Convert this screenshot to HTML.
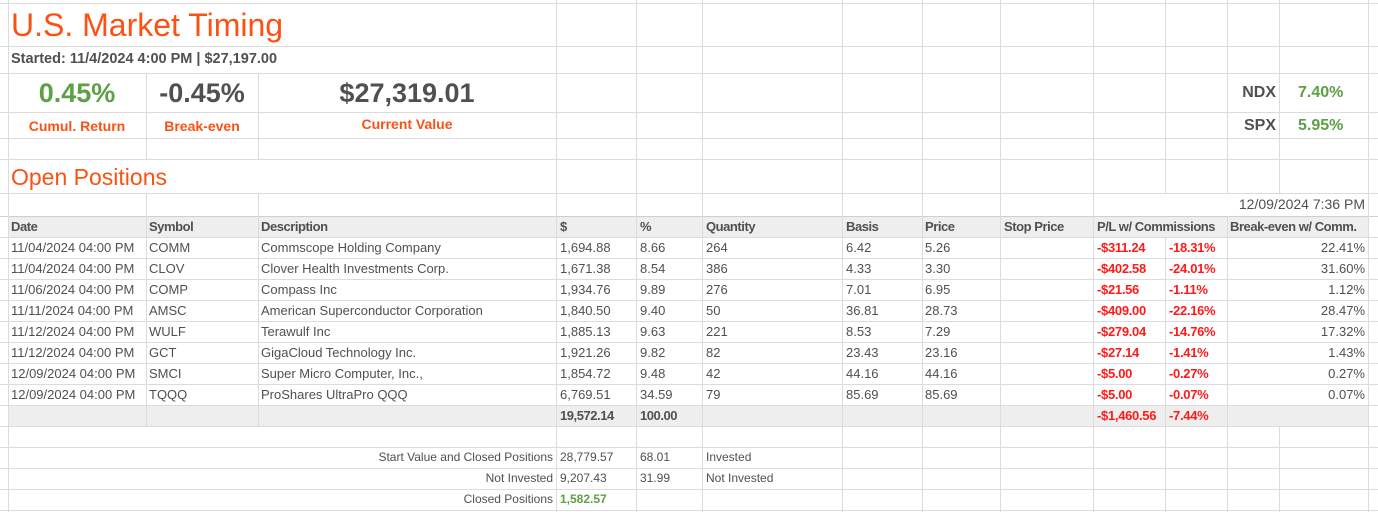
<!DOCTYPE html>
<html><head><meta charset="utf-8">
<style>
body{margin:0;width:1378px;height:512px;background:#fff;position:relative;overflow:hidden;font-family:"Liberation Sans",sans-serif;}
.v{position:absolute;width:1px;background:#dcdcdc}
.h{position:absolute;height:1px;background:#dcdcdc}
.bg{position:absolute;background:#eeeeee}
.t{position:absolute;white-space:nowrap;font-size:13px;color:#505050;line-height:21px}
.b{font-weight:bold}
.hd{font-weight:bold;letter-spacing:-0.45px}
.r{text-align:right}
.red{color:#ff1a1a;font-weight:bold;letter-spacing:-0.3px}
.or{color:#fb5214}
.gr{color:#5ea046}
</style></head><body>
<div class="bg" style="left:8px;top:216px;width:1360px;height:21px"></div>
<div class="bg" style="left:8px;top:405px;width:1360px;height:21px"></div>

<div class="h" style="left:0;top:3px;width:1378px"></div>
<div class="h" style="left:0;top:46px;width:1378px"></div>
<div class="h" style="left:0;top:73px;width:1378px"></div>
<div class="h" style="left:0;top:112px;width:1378px"></div>
<div class="h" style="left:0;top:138px;width:1378px"></div>
<div class="h" style="left:0;top:159px;width:1378px"></div>
<div class="h" style="left:0;top:193px;width:1378px"></div>
<div class="h" style="left:0;top:216px;width:1378px;background:#cfcfcf"></div>
<div class="h" style="left:0;top:237px;width:1378px"></div>
<div class="h" style="left:0;top:258px;width:1378px"></div>
<div class="h" style="left:0;top:279px;width:1378px"></div>
<div class="h" style="left:0;top:300px;width:1378px"></div>
<div class="h" style="left:0;top:321px;width:1378px"></div>
<div class="h" style="left:0;top:342px;width:1378px"></div>
<div class="h" style="left:0;top:363px;width:1378px"></div>
<div class="h" style="left:0;top:384px;width:1378px"></div>
<div class="h" style="left:0;top:405px;width:1378px"></div>
<div class="h" style="left:0;top:426px;width:1378px"></div>
<div class="h" style="left:0;top:447px;width:1378px"></div>
<div class="h" style="left:0;top:468px;width:1378px"></div>
<div class="h" style="left:0;top:489px;width:1378px"></div>
<div class="h" style="left:0;top:510px;width:1378px"></div>

<div class="v" style="left:8px;top:0;height:512px"></div>
<div class="v" style="left:146px;top:73px;height:86px"></div>
<div class="v" style="left:146px;top:193px;height:233px"></div>
<div class="v" style="left:258px;top:73px;height:86px"></div>
<div class="v" style="left:258px;top:193px;height:233px"></div>
<div class="v" style="left:556px;top:0;height:512px"></div>
<div class="v" style="left:636px;top:0;height:512px"></div>
<div class="v" style="left:702px;top:0;height:512px"></div>
<div class="v" style="left:842px;top:0;height:512px"></div>
<div class="v" style="left:922px;top:0;height:512px"></div>
<div class="v" style="left:1000px;top:0;height:512px"></div>
<div class="v" style="left:1093px;top:0;height:512px"></div>
<div class="v" style="left:1165px;top:0;height:193px"></div>
<div class="v" style="left:1165px;top:237px;height:275px"></div>
<div class="v" style="left:1227px;top:0;height:193px"></div>
<div class="v" style="left:1227px;top:216px;height:296px"></div>
<div class="v" style="left:1279px;top:0;height:193px"></div>
<div class="v" style="left:1279px;top:426px;height:86px"></div>
<div class="v" style="left:1368px;top:0;height:512px"></div>

<div class="t or" style="left:11px;top:5px;font-size:32px;line-height:40px">U.S. Market Timing</div>
<div class="t b" style="left:11px;top:49px;font-size:14.5px">Started: 11/4/2024 4:00 PM | $27,197.00</div>
<div class="t b gr" style="left:8px;width:138px;top:76px;font-size:27px;line-height:34px;text-align:center">0.45%</div>
<div class="t b" style="left:146px;width:112px;top:76px;font-size:27px;line-height:34px;text-align:center">-0.45%</div>
<div class="t b" style="left:258px;width:298px;top:76px;font-size:27px;line-height:34px;text-align:center">$27,319.01</div>
<div class="t b or" style="left:8px;width:138px;top:116px;font-size:14px;text-align:center">Cumul. Return</div>
<div class="t b or" style="left:146px;width:112px;top:116px;font-size:14px;text-align:center">Break-even</div>
<div class="t b or" style="left:258px;width:298px;top:114px;font-size:14px;text-align:center">Current Value</div>
<div class="t b r" style="left:1227px;width:49px;top:82px;font-size:16px">NDX</div>
<div class="t b gr" style="left:1298px;top:82px;font-size:16px">7.40%</div>
<div class="t b r" style="left:1227px;width:49px;top:115px;font-size:16px">SPX</div>
<div class="t b gr" style="left:1298px;top:115px;font-size:16px">5.95%</div>
<div class="t or" style="left:11px;top:162px;font-size:23px;line-height:30px">Open Positions</div>
<div class="t r" style="left:1100px;width:265px;top:194px;font-size:14px">12/09/2024 7:36 PM</div>

<div class="t hd" style="left:11px;top:216px">Date</div>
<div class="t hd" style="left:149px;top:216px">Symbol</div>
<div class="t hd" style="left:261px;top:216px">Description</div>
<div class="t hd" style="left:560px;top:216px">$</div>
<div class="t hd" style="left:640px;top:216px">%</div>
<div class="t hd" style="left:706px;top:216px">Quantity</div>
<div class="t hd" style="left:846px;top:216px">Basis</div>
<div class="t hd" style="left:925px;top:216px">Price</div>
<div class="t hd" style="left:1004px;top:216px">Stop Price</div>
<div class="t hd" style="left:1097px;top:216px">P/L w/ Commissions</div>
<div class="t hd" style="left:1230px;top:216px">Break-even w/ Comm.</div>

<div class="t" style="left:11px;top:237px">11/04/2024 04:00 PM</div><div class="t" style="left:149px;top:237px">COMM</div><div class="t" style="left:261px;top:237px">Commscope Holding Company</div><div class="t" style="left:560px;top:237px">1,694.88</div><div class="t" style="left:640px;top:237px">8.66</div><div class="t" style="left:706px;top:237px">264</div><div class="t" style="left:846px;top:237px">6.42</div><div class="t" style="left:925px;top:237px">5.26</div><div class="t red" style="left:1097px;top:237px">-$311.24</div><div class="t red" style="left:1169px;top:237px">-18.31%</div><div class="t r" style="left:1230px;width:135px;top:237px">22.41%</div>
<div class="t" style="left:11px;top:258px">11/04/2024 04:00 PM</div><div class="t" style="left:149px;top:258px">CLOV</div><div class="t" style="left:261px;top:258px">Clover Health Investments Corp.</div><div class="t" style="left:560px;top:258px">1,671.38</div><div class="t" style="left:640px;top:258px">8.54</div><div class="t" style="left:706px;top:258px">386</div><div class="t" style="left:846px;top:258px">4.33</div><div class="t" style="left:925px;top:258px">3.30</div><div class="t red" style="left:1097px;top:258px">-$402.58</div><div class="t red" style="left:1169px;top:258px">-24.01%</div><div class="t r" style="left:1230px;width:135px;top:258px">31.60%</div>
<div class="t" style="left:11px;top:279px">11/06/2024 04:00 PM</div><div class="t" style="left:149px;top:279px">COMP</div><div class="t" style="left:261px;top:279px">Compass Inc</div><div class="t" style="left:560px;top:279px">1,934.76</div><div class="t" style="left:640px;top:279px">9.89</div><div class="t" style="left:706px;top:279px">276</div><div class="t" style="left:846px;top:279px">7.01</div><div class="t" style="left:925px;top:279px">6.95</div><div class="t red" style="left:1097px;top:279px">-$21.56</div><div class="t red" style="left:1169px;top:279px">-1.11%</div><div class="t r" style="left:1230px;width:135px;top:279px">1.12%</div>
<div class="t" style="left:11px;top:300px">11/11/2024 04:00 PM</div><div class="t" style="left:149px;top:300px">AMSC</div><div class="t" style="left:261px;top:300px">American Superconductor Corporation</div><div class="t" style="left:560px;top:300px">1,840.50</div><div class="t" style="left:640px;top:300px">9.40</div><div class="t" style="left:706px;top:300px">50</div><div class="t" style="left:846px;top:300px">36.81</div><div class="t" style="left:925px;top:300px">28.73</div><div class="t red" style="left:1097px;top:300px">-$409.00</div><div class="t red" style="left:1169px;top:300px">-22.16%</div><div class="t r" style="left:1230px;width:135px;top:300px">28.47%</div>
<div class="t" style="left:11px;top:321px">11/12/2024 04:00 PM</div><div class="t" style="left:149px;top:321px">WULF</div><div class="t" style="left:261px;top:321px">Terawulf Inc</div><div class="t" style="left:560px;top:321px">1,885.13</div><div class="t" style="left:640px;top:321px">9.63</div><div class="t" style="left:706px;top:321px">221</div><div class="t" style="left:846px;top:321px">8.53</div><div class="t" style="left:925px;top:321px">7.29</div><div class="t red" style="left:1097px;top:321px">-$279.04</div><div class="t red" style="left:1169px;top:321px">-14.76%</div><div class="t r" style="left:1230px;width:135px;top:321px">17.32%</div>
<div class="t" style="left:11px;top:342px">11/12/2024 04:00 PM</div><div class="t" style="left:149px;top:342px">GCT</div><div class="t" style="left:261px;top:342px">GigaCloud Technology Inc.</div><div class="t" style="left:560px;top:342px">1,921.26</div><div class="t" style="left:640px;top:342px">9.82</div><div class="t" style="left:706px;top:342px">82</div><div class="t" style="left:846px;top:342px">23.43</div><div class="t" style="left:925px;top:342px">23.16</div><div class="t red" style="left:1097px;top:342px">-$27.14</div><div class="t red" style="left:1169px;top:342px">-1.41%</div><div class="t r" style="left:1230px;width:135px;top:342px">1.43%</div>
<div class="t" style="left:11px;top:363px">12/09/2024 04:00 PM</div><div class="t" style="left:149px;top:363px">SMCI</div><div class="t" style="left:261px;top:363px">Super Micro Computer, Inc.,</div><div class="t" style="left:560px;top:363px">1,854.72</div><div class="t" style="left:640px;top:363px">9.48</div><div class="t" style="left:706px;top:363px">42</div><div class="t" style="left:846px;top:363px">44.16</div><div class="t" style="left:925px;top:363px">44.16</div><div class="t red" style="left:1097px;top:363px">-$5.00</div><div class="t red" style="left:1169px;top:363px">-0.27%</div><div class="t r" style="left:1230px;width:135px;top:363px">0.27%</div>
<div class="t" style="left:11px;top:384px">12/09/2024 04:00 PM</div><div class="t" style="left:149px;top:384px">TQQQ</div><div class="t" style="left:261px;top:384px">ProShares UltraPro QQQ</div><div class="t" style="left:560px;top:384px">6,769.51</div><div class="t" style="left:640px;top:384px">34.59</div><div class="t" style="left:706px;top:384px">79</div><div class="t" style="left:846px;top:384px">85.69</div><div class="t" style="left:925px;top:384px">85.69</div><div class="t red" style="left:1097px;top:384px">-$5.00</div><div class="t red" style="left:1169px;top:384px">-0.07%</div><div class="t r" style="left:1230px;width:135px;top:384px">0.07%</div>

<div class="t hd" style="left:560px;top:405px">19,572.14</div>
<div class="t hd" style="left:640px;top:405px">100.00</div>
<div class="t red" style="left:1097px;top:405px">-$1,460.56</div>
<div class="t red" style="left:1169px;top:405px">-7.44%</div>

<div class="t r" style="left:8px;width:545px;top:447px;font-size:12px">Start Value and Closed Positions</div>
<div class="t" style="left:560px;top:447px;font-size:12px">28,779.57</div>
<div class="t" style="left:640px;top:447px;font-size:12px">68.01</div>
<div class="t" style="left:706px;top:447px;font-size:12px">Invested</div>
<div class="t r" style="left:8px;width:545px;top:468px;font-size:12px">Not Invested</div>
<div class="t" style="left:560px;top:468px;font-size:12px">9,207.43</div>
<div class="t" style="left:640px;top:468px;font-size:12px">31.99</div>
<div class="t" style="left:706px;top:468px;font-size:12px">Not Invested</div>
<div class="t r" style="left:8px;width:545px;top:489px;font-size:12px">Closed Positions</div>
<div class="t b gr" style="left:560px;top:489px;font-size:12px">1,582.57</div>
</body></html>
